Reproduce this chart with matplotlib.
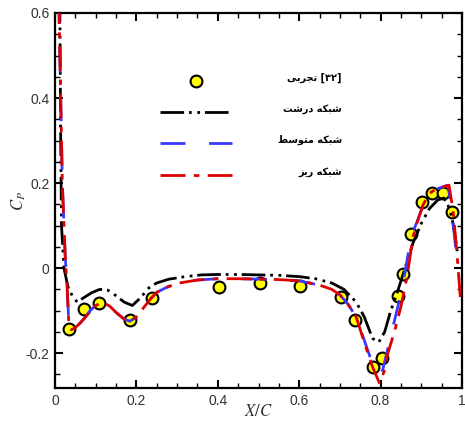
import matplotlib
matplotlib.use('Agg')
import matplotlib.pyplot as plt
from matplotlib.lines import Line2D
from matplotlib.ticker import MultipleLocator, FuncFormatter

plt.rcParams['font.family'] = ['Liberation Sans', 'DejaVu Sans']
plt.rcParams['axes.unicode_minus'] = False
plt.rcParams['mathtext.fontset'] = 'stix'
plt.rcParams['lines.scale_dashes'] = False

# --- Data ---

# experiment [32]
exp_x = [0.034, 0.071, 0.108, 0.184, 0.239, 0.402, 0.504, 0.602, 0.703, 0.737,
         0.782, 0.803, 0.843, 0.855, 0.875, 0.901, 0.926, 0.953, 0.975]
exp_cp = [-0.144, -0.097, -0.082, -0.122, -0.071, -0.045, -0.036, -0.042, -0.067, -0.122,
          -0.233, -0.212, -0.066, -0.014, 0.080, 0.155, 0.176, 0.176, 0.132]

# coarse grid
coarse_x = [0.008, 0.012, 0.014, 0.016, 0.022, 0.032, 0.045, 0.055, 0.07, 0.09, 0.11, 0.13,
            0.15, 0.17, 0.19, 0.21, 0.23, 0.25, 0.28, 0.32, 0.36, 0.4, 0.45, 0.5, 0.55,
            0.6, 0.64, 0.68, 0.71, 0.74, 0.76, 0.78, 0.795, 0.81, 0.825, 0.84, 0.86,
            0.88, 0.9, 0.92, 0.94, 0.955, 0.965, 0.975, 0.982, 0.99]
coarse_cp = [0.8, 0.6, 0.3, 0.1, 0.0, -0.045, -0.07, -0.08, -0.07, -0.058, -0.05, -0.052,
             -0.065, -0.08, -0.088, -0.07, -0.047, -0.035, -0.026, -0.02, -0.016, -0.015,
             -0.015, -0.016, -0.017, -0.02, -0.025, -0.035, -0.05, -0.08, -0.115, -0.165,
             -0.175, -0.15, -0.1, -0.06, 0.0, 0.06, 0.105, 0.14, 0.16, 0.165, 0.15, 0.12,
             0.08, 0.03]

# medium grid
medium_x = [0.008, 0.01, 0.014, 0.018, 0.025, 0.03, 0.034, 0.04, 0.05, 0.061, 0.075, 0.086,
            0.1, 0.118, 0.135, 0.152, 0.17, 0.184, 0.2, 0.217, 0.235, 0.25, 0.275, 0.3,
            0.35, 0.4, 0.45, 0.5, 0.55, 0.6, 0.65, 0.68, 0.7, 0.72, 0.74, 0.76, 0.78,
            0.795, 0.805, 0.815, 0.83, 0.845, 0.86, 0.875, 0.89, 0.905, 0.92, 0.935,
            0.95, 0.965, 0.975, 0.982, 0.99]
medium_cp = [0.8, 0.6, 0.4, 0.2, 0.03, -0.05, -0.13, -0.145, -0.14, -0.13, -0.115, -0.1,
             -0.088, -0.08, -0.09, -0.106, -0.12, -0.125, -0.115, -0.094, -0.072, -0.057,
             -0.045, -0.036, -0.028, -0.025, -0.025, -0.026, -0.027, -0.03, -0.04, -0.05,
             -0.063, -0.085, -0.115, -0.17, -0.225, -0.25, -0.24, -0.2, -0.14, -0.08,
             -0.01, 0.075, 0.11, 0.15, 0.175, 0.185, 0.19, 0.195, 0.14, 0.07, -0.005]

# fine grid
fine_x = [0.008, 0.01, 0.014, 0.018, 0.025, 0.03, 0.034, 0.04, 0.05, 0.061, 0.075, 0.086,
          0.1, 0.118, 0.135, 0.152, 0.17, 0.184, 0.2, 0.217, 0.235, 0.25, 0.275, 0.3,
          0.35, 0.4, 0.45, 0.5, 0.55, 0.6, 0.65, 0.68, 0.7, 0.72, 0.74, 0.76, 0.78,
          0.797, 0.808, 0.818, 0.835, 0.85, 0.865, 0.88, 0.89, 0.905, 0.92, 0.935,
          0.95, 0.968, 0.978, 0.988, 0.996]
fine_cp = [0.8, 0.6, 0.4, 0.2, 0.03, -0.05, -0.13, -0.145, -0.14, -0.13, -0.115, -0.1,
           -0.088, -0.08, -0.09, -0.106, -0.12, -0.125, -0.115, -0.094, -0.072, -0.057,
           -0.045, -0.036, -0.028, -0.025, -0.025, -0.026, -0.027, -0.03, -0.04, -0.05,
           -0.063, -0.085, -0.115, -0.175, -0.232, -0.27, -0.245, -0.2, -0.146, -0.09,
           -0.02, 0.075, 0.108, 0.15, 0.176, 0.185, 0.19, 0.195, 0.136, 0.03, -0.07]

x_ticks = [0, 0.2, 0.4, 0.6, 0.8, 1.0]
y_ticks = [-0.2, 0, 0.2, 0.4, 0.6]

# legend labels (Persian, written as shaped glyphs in visual order)
lbl_exp = '\uFEF0\uFE91\uFEAE\uFEA0\uFE97 [\u06F3\u06F2]'
lbl_coarse = '\uFE96\uFEB7\uFEAD\uFEA9 \uFEEA\uFEDC\uFE92\uFEB7'
lbl_medium = '\uFEC2\uFEB3\uFEEE\uFE98\uFEE3 \uFEEA\uFEDC\uFE92\uFEB7'
lbl_fine = '\uFEB0\uFEF3\uFEAD \uFEEA\uFEDC\uFE92\uFEB7'

# --- Styles ---
COARSE = dict(color='black', lw=2.0, dashes=(17, 3.5, 2, 4, 2, 3.5))
MEDIUM = dict(color='#3a3aff', lw=2.0, dashes=(18, 17))
FINE = dict(color='#dd0000', lw=2.0, dashes=(18, 6, 4, 6))
EXP = dict(ls='none', marker='o', ms=8.5, mfc='#ffff00', mec='black', mew=1.5)

fig = plt.figure(figsize=(4.65, 4.23), dpi=100)
ax = fig.add_axes([55 / 465, 1 - 388 / 423, 407 / 465, 375 / 423])

ax.plot(exp_x, exp_cp, zorder=2, **EXP)
ax.plot(coarse_x, coarse_cp, zorder=3, **COARSE)
ax.plot(medium_x, medium_cp, zorder=3, **MEDIUM)
ax.plot(fine_x, fine_cp, zorder=4, **FINE)

ax.set_xlim(0, 1)
ax.set_ylim(-0.282, 0.6)
ax.set_xticks(x_ticks)
ax.set_yticks(y_ticks)
ax.xaxis.set_minor_locator(MultipleLocator(0.05))
ax.yaxis.set_minor_locator(MultipleLocator(0.05))
fmt = FuncFormatter(lambda v, p: '0' if abs(v) < 1e-9 else f'{v:g}')
ax.xaxis.set_major_formatter(fmt)
ax.yaxis.set_major_formatter(fmt)

ax.tick_params(which='both', direction='in', top=True, right=True, labelsize=10,
               colors='black', labelcolor='#333333')
ax.tick_params(which='major', length=6, width=1.5, pad=4)
ax.tick_params(which='minor', length=3.5, width=1.0)
for s in ax.spines.values():
    s.set_linewidth(1.6)

ax.set_xlabel('$X/C$', fontsize=12, color='#333333', labelpad=-3)
ax.set_ylabel('$C_P$', fontsize=12, color='#333333', labelpad=-2)

# --- Legend (handles drawn in axes fraction, Persian text right-aligned) ---
rows = [(0.819, lbl_exp, EXP), (0.736, lbl_coarse, COARSE),
        (0.653, lbl_medium, MEDIUM), (0.568, lbl_fine, FINE)]
for yy, label, style in rows:
    if style is EXP:
        h = Line2D([0.346], [yy], transform=ax.transAxes, **EXP)
    else:
        h = Line2D([0.258, 0.435], [yy, yy], transform=ax.transAxes, **style)
    ax.add_line(h)
    ax.text(0.705, yy + 0.008, label, transform=ax.transAxes, ha='right', va='center',
            fontsize=7, fontweight='bold', family=['DejaVu Sans'])

fig.savefig('out.png', dpi=100)
